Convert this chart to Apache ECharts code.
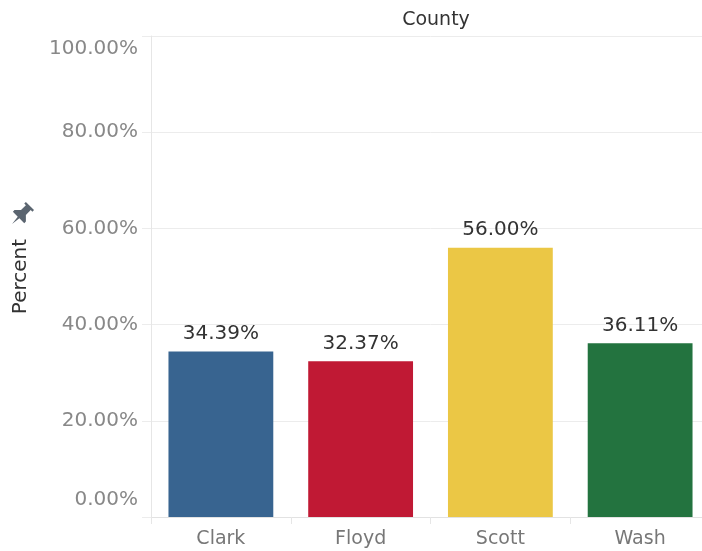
<!DOCTYPE html>
<html>
<head>
<meta charset="utf-8">
<script src="https://cdn.jsdelivr.net/npm/echarts@6/dist/echarts.min.js"></script>
<style>
  html, body { margin: 0; padding: 0; background: #fff; overflow: hidden; }
  /* the view is a little wider than the window; the last column runs off the right edge */
  #chart { width: 710px; height: 551px; }
</style>
</head>
<body>
<div id="chart"></div>
<script>
// Share of respondents by county
const counties = ['Clark', 'Floyd', 'Scott', 'Wash'];
const percents = [34.39, 32.37, 56.00, 36.11];
const yTicks = [0, 20, 40, 60, 80, 100];

const palette = ['#386490', '#c01934', '#ebc745', '#23733f'];
const FONT = 'DejaVu Sans';

const chart = echarts.init(document.getElementById('chart'), null, { renderer: 'canvas' });

const fmt = v => v.toFixed(2) + '%';

// upright push-pin outline, tilted when placed
const pinOutline = [
  [-5, -11], [5, -11], [5, -9], [3, -9], [3, -3], [7, 1], [7, 3], [1, 3],
  [0, 11], [-1, 3], [-7, 3], [-7, 1], [-3, -3], [-3, -9], [-5, -9]
];

chart.setOption({
  animation: false,
  backgroundColor: '#ffffff',
  title: {
    text: 'County',
    left: 431,
    top: 6,
    textAlign: 'center',
    textStyle: { fontFamily: FONT, fontSize: 19, fontWeight: 'normal', color: '#333333' }
  },
  grid: { left: 151, right: 0, top: 36, bottom: 34, containLabel: false },
  xAxis: {
    type: 'category',
    data: counties,
    axisLine: { show: true, lineStyle: { color: '#e2e2e2', width: 1 } },
    axisTick: { show: true, length: 7, lineStyle: { color: '#e6e6e6' } },
    axisLabel: {
      margin: 13,
      fontFamily: FONT, fontSize: 19, color: '#777777'
    },
    splitLine: { show: false }
  },
  yAxis: {
    type: 'value',
    min: yTicks[0],
    max: yTicks[yTicks.length - 1],
    interval: yTicks[1] - yTicks[0],
    name: 'Percent',
    nameLocation: 'middle',
    nameRotate: 90,
    nameGap: 120,
    nameTextStyle: { fontFamily: FONT, fontSize: 20, color: '#333333' },
    axisLine: { show: true, lineStyle: { color: '#e6e6e6', width: 1 } },
    axisTick: { show: true, length: 9, lineStyle: { color: '#ececec' } },
    splitLine: { show: true, lineStyle: { color: '#ececec', width: 1 } },
    axisLabel: {
      margin: 13,
      fontFamily: FONT, fontSize: 20, color: '#888888',
      formatter: v => {
        if (v === yTicks[0]) return '{lo|' + fmt(v) + '}';
        if (v === yTicks[yTicks.length - 1]) return '{hi|' + fmt(v) + '}';
        return fmt(v);
      },
      rich: {
        lo: { fontFamily: FONT, fontSize: 20, color: '#888888', padding: [0, 0, 34, 0] },
        hi: { fontFamily: FONT, fontSize: 20, color: '#888888', padding: [26, 0, 0, 0] }
      }
    }
  },
  graphic: [{
    type: 'polygon',
    x: 21, y: 215,
    rotation: -Math.PI / 4,
    scaleX: 1.15, scaleY: 1.15,
    shape: { points: pinOutline },
    style: { fill: '#5b6570' },
    silent: true
  }],
  series: [{
    type: 'bar',
    barWidth: '75%',
    data: percents.map((v, i) => ({ value: v, itemStyle: { color: palette[i] } })),
    label: {
      show: true,
      position: 'top',
      distance: 8,
      fontFamily: FONT, fontSize: 20, color: '#333333',
      formatter: p => fmt(p.value)
    }
  }]
});
</script>
</body>
</html>
